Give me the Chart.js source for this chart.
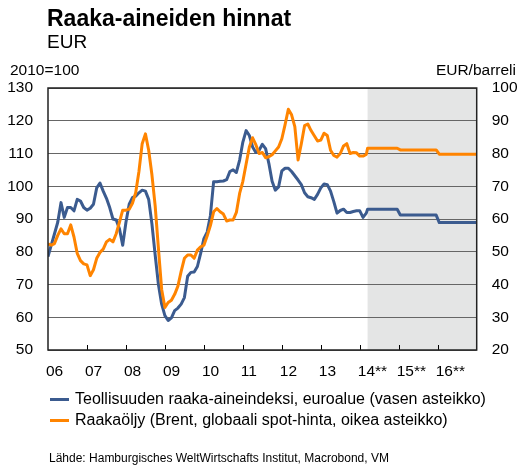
<!DOCTYPE html>
<html>
<head>
<meta charset="utf-8">
<script src="https://cdn.jsdelivr.net/npm/chart.js@4.4.1/dist/chart.umd.min.js"></script>
<style>
  body { margin: 0; background: #fff; }
  #wrap { position: relative; width: 517px; height: 467px; overflow: hidden; font-family: "Liberation Sans", Arial, sans-serif; color: #000; }
  #chart { position: absolute; left: 0; top: 0; }
  .txt { position: absolute; white-space: nowrap; line-height: 1; }
  .legend-line { position: absolute; left: 50px; width: 19px; height: 3px; }
</style>
</head>
<body>
<div id="wrap">
  <canvas id="chart" width="517" height="467"></canvas>
  <div class="txt" style="left:47px; top:7px; font-size:23px; font-weight:bold;">Raaka-aineiden hinnat</div>
  <div class="txt" style="left:47px; top:32px; font-size:19px;">EUR</div>
  <div class="txt" style="left:10px; top:62px; font-size:15.5px;">2010=100</div>
  <div class="txt" style="right:1px; top:62px; font-size:15.5px;">EUR/barreli</div>
  <div class="legend-line" style="top:398px; background:#3b5b8f;"></div>
  <div class="txt" style="left:75px; top:391px; font-size:16px;">Teollisuuden raaka-aineindeksi, euroalue (vasen asteikko)</div>
  <div class="legend-line" style="top:419px; background:#ff8400;"></div>
  <div class="txt" style="left:75px; top:412px; font-size:16px;">Raakaöljy (Brent, globaali spot-hinta, oikea asteikko)</div>
  <div class="txt" style="left:49px; top:452px; font-size:12px;">Lähde: Hamburgisches WeltWirtschafts Institut, Macrobond, VM</div>
</div>
<script>
// monthly data from Jan 2006
const start_year = 2006
const years = [2006, 2007, 2008, 2009, 2010, 2011, 2012, 2013, 2014, 2015, 2016, 2017]
const year_labels = ["06", "07", "08", "09", "10", "11", "12", "13", "14**", "15**", "16**", ""]

// Teollisuuden raaka-aineindeksi, 2010=100 (left axis)
const raw_index = [
  78.5, 82, 85.5, 89, 95, 90.5, 93.5, 93.5, 92.5, 96, 95.5, 93.5,
  92.7, 93.3, 94.5, 99.5, 101, 98.5, 96.3, 93.5, 90, 89.7, 87, 82,
  89, 94.5, 96.5, 97, 98, 98.8, 98.5, 96, 88.5, 79, 70, 64,
  60.5, 59, 59.8, 62, 62.8, 64, 66, 72.5, 73.7, 73.8, 75.5, 79.5,
  84, 86, 91, 101.4, 101.4, 101.5, 101.6, 102, 104.5, 105, 104.2, 108,
  113.5, 117, 115.5, 112, 110.3, 111, 112.8, 111.5, 107, 101.5, 98.8, 99.8,
  104.7, 105.5, 105.5, 104.5, 103.2, 101.9, 100.5, 98, 96.8, 96.5, 96, 97.5,
  99.5, 100.7, 100.5, 98.5, 95.3, 91.8, 92.6, 93, 92, 92, 92.3, 92.5,
  92.5, 90.5, 91.8
]

// Brent, EUR/barreli (right axis)
const brent = [
  52.4, 52, 52.5, 55, 57, 55.5, 55.5, 58.2, 54.5, 49.5, 47.3, 46.3,
  46, 42.7, 44.5, 48, 49.8, 50.8, 53, 53.8, 53, 55.5, 59, 62.7,
  62.7, 63, 64.8, 68, 74.5, 83, 86, 81, 73.5, 64, 51, 38.5,
  33, 34.5, 35.2, 37, 39.5, 44, 48, 49, 49, 48, 50.5, 51.5,
  52, 54.8, 58, 62.2, 63.2, 62.2, 61.5, 59.4, 59.7, 59.7, 62, 67.8,
  71.5, 76.8, 82, 84.8, 82.7, 80, 80.3, 78.7, 79, 79.6, 80.8, 82,
  84.5, 88.8, 93.5, 91.8, 88.2, 78, 83, 88.5, 89, 87, 85.4, 83.8,
  84.1, 86.2, 85.5, 81, 79.4, 78.9, 80, 82.3, 83, 80, 80.3, 80.2,
  79.2, 79.2, 79.7
]

// forecasts (one level per year)
const forecast_years = [2014, 2015, 2016]
const raw_index_forecast = [93, 91.2, 88.9]
const brent_forecast = [81.6, 81.1, 79.8]

const forecast_start = 2014.2
const blue = "#3b5b8f"
const orange = "#ff8400"

function build_points(monthly, forecast) {
  let pts = monthly.map((v, i) => ({ x: start_year + i / 12, y: v }))
  forecast.forEach((v, i) => {
    let y = forecast_years[i]
    let from = i === 0 ? forecast_start : y + 0.04
    let to = i === forecast.length - 1 ? y + 1 : y + 0.96
    pts.push({ x: from, y: v })
    pts.push({ x: to, y: v })
  })
  return pts
}

const frame_plugin = {
  id: "frame",
  beforeDraw(chart) {
    const { ctx, chartArea } = chart
    const xs = chart.scales.x
    const x0 = xs.getPixelForValue(forecast_start)
    ctx.save()
    ctx.fillStyle = "#e4e5e5"
    ctx.fillRect(x0, chartArea.top, chartArea.right - x0, chartArea.bottom - chartArea.top)
    ctx.restore()
  },
  afterDraw(chart) {
    const { ctx, chartArea } = chart
    const xs = chart.scales.x
    ctx.save()
    ctx.strokeStyle = "#000"
    ctx.lineWidth = 1
    years.slice(1, -1).forEach(y => {
      const px = Math.round(xs.getPixelForValue(y)) + 0.5
      ctx.beginPath()
      ctx.moveTo(px, chartArea.bottom)
      ctx.lineTo(px, chartArea.bottom - 5)
      ctx.stroke()
    })
    ctx.lineWidth = 1.5
    ctx.strokeStyle = "#222"
    ctx.strokeRect(chartArea.left, chartArea.top, chartArea.right - chartArea.left, chartArea.bottom - chartArea.top)
    ctx.restore()
  }
}

const tick_font = { family: "'Liberation Sans', Arial, sans-serif", size: 15.5 }

new Chart(document.getElementById("chart"), {
  type: "line",
  data: {
    datasets: [
      {
        label: "Raakaöljy (Brent, globaali spot-hinta, oikea asteikko)",
        data: build_points(brent, brent_forecast),
        yAxisID: "yR",
        borderColor: orange,
        borderWidth: 3,
        pointRadius: 0,
        tension: 0,
        borderJoinStyle: "round"
      },
      {
        label: "Teollisuuden raaka-aineindeksi, euroalue (vasen asteikko)",
        data: build_points(raw_index, raw_index_forecast),
        yAxisID: "yL",
        borderColor: blue,
        borderWidth: 3,
        pointRadius: 0,
        tension: 0,
        borderJoinStyle: "round"
      }
    ]
  },
  options: {
    responsive: false,
    animation: false,
    events: [],
    layout: { padding: { top: 88, bottom: 87, left: 0, right: 0 } },
    plugins: { legend: { display: false }, tooltip: { enabled: false } },
    scales: {
      x: {
        type: "linear",
        min: years[0],
        max: years[years.length - 1],
        grid: { display: false, drawTicks: false },
        border: { display: false },
        afterBuildTicks: s => { s.ticks = years.map(v => ({ value: v })) },
        afterFit: s => { s.height = 30 },
        ticks: {
          font: tick_font,
          color: "#000",
          padding: 12,
          align: "start",
          labelOffset: -2,
          maxRotation: 0,
          autoSkip: false,
          callback: (v, i) => year_labels[i]
        }
      },
      yL: {
        position: "left",
        min: 50,
        max: 130,
        afterFit: s => { s.width = 48 },
        grid: { color: "#666", lineWidth: 1, drawTicks: false },
        border: { display: false },
        ticks: { stepSize: 10, font: tick_font, color: "#000", padding: 15 }
      },
      yR: {
        position: "right",
        min: 20,
        max: 100,
        afterFit: s => { s.width = 40.3 },
        grid: { display: false, drawTicks: false },
        border: { display: false },
        ticks: { stepSize: 10, font: tick_font, color: "#000", padding: 15 }
      }
    }
  },
  plugins: [frame_plugin]
})
</script>
</body>
</html>
